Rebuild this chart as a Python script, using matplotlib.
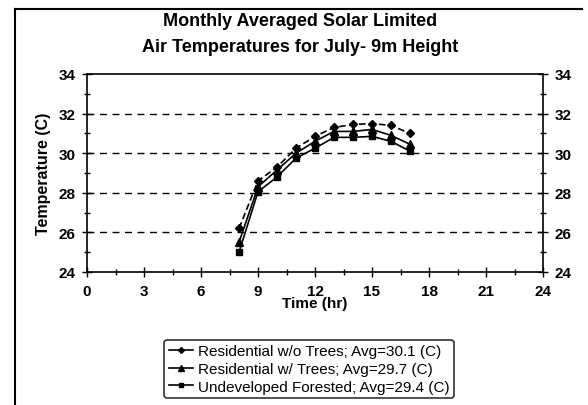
import matplotlib
matplotlib.use("Agg")
import matplotlib.pyplot as plt
from matplotlib.lines import Line2D
from matplotlib.ticker import MultipleLocator

plt.rcParams['font.family'] = ['Liberation Sans', 'DejaVu Sans']

hours = [8, 9, 10, 11, 12, 13, 14, 15, 16, 17]
res_no_trees = [26.2, 28.6, 29.3, 30.25, 30.85, 31.3, 31.45, 31.5, 31.4, 31.0]
res_trees = [25.5, 28.3, 29.15, 30.0, 30.6, 31.1, 31.1, 31.2, 30.9, 30.45]
forested = [25.0, 28.05, 28.8, 29.75, 30.25, 30.8, 30.8, 30.85, 30.6, 30.1]
labels = ["Residential w/o Trees; Avg=30.1 (C)",
          "Residential w/ Trees; Avg=29.7 (C)",
          "Undeveloped Forested; Avg=29.4 (C)"]
x_ticks = [0, 3, 6, 9, 12, 15, 18, 21, 24]
y_ticks = [24, 26, 28, 30, 32, 34]
grid_vals = [26, 28, 30, 32]

fig = plt.figure(figsize=(5.88, 4.06), dpi=100)
ax = fig.add_axes([87/588, 1-273/406, (543-87)/588, (273-75)/406])

ax.plot(hours, res_no_trees, color='black', ls=(0, (4, 2)), lw=1.2, marker='D', ms=4.5)
ax.plot(hours, res_trees, color='black', ls='-', lw=1.2, marker='^', ms=5.5)
ax.plot(hours, forested, color='black', ls='-', lw=1.2, marker='s', ms=4.5)

for g in grid_vals:
    ax.axhline(g, color='black', ls=(0, (5, 4)), lw=1.0, zorder=0)

ax.set_xlim(0, 24)
ax.set_ylim(24, 34)
ax.set_xticks(x_ticks)
ax.set_yticks(y_ticks)
ax.xaxis.set_minor_locator(MultipleLocator(1.5))
ax.yaxis.set_minor_locator(MultipleLocator(1))
ax.tick_params(which='major', direction='inout', length=7, width=1,
               labelsize=11, right=True, labelright=True)
ax.tick_params(axis='x', which='major', pad=5)
ax.tick_params(axis='y', which='major', pad=5)
ax.tick_params(which='minor', direction='inout', length=4, width=1, right=True)
for lab in ax.get_xticklabels() + ax.get_yticklabels():
    lab.set_fontweight('bold')
for sp in ax.spines.values():
    sp.set_linewidth(1.2)

ax.set_xlabel("Time (hr)", fontsize=11, fontweight='bold', labelpad=-1)
ax.set_ylabel("Temperature (C)", fontsize=11.5, fontweight='bold', labelpad=5)

fig.text(300/588, 1-22/406, "Monthly Averaged Solar Limited", ha='center', va='center',
         fontsize=13, fontweight='bold')
fig.text(300/588, 1-47/406, "Air Temperatures for July- 9m Height", ha='center', va='center',
         fontsize=13, fontweight='bold')

handles = [Line2D([], [], color='black', ls='-', lw=1.2, marker='D', ms=3),
           Line2D([], [], color='black', ls='-', lw=1.2, marker='^', ms=4),
           Line2D([], [], color='black', ls='-', lw=1.2, marker='s', ms=3)]
leg = fig.legend(handles, labels, loc='center', bbox_to_anchor=(309/588, 1-370/406),
                 frameon=True, fancybox=True, edgecolor='black', fontsize=11,
                 handlelength=1.6, handletextpad=0.3, labelspacing=0.25,
                 borderpad=0.3)
leg.get_frame().set_linewidth(1.2)

# outer border (left and top)
fig.add_artist(Line2D([15/588, 15/588], [0, 1-10/406], color='black', lw=1.5))
fig.add_artist(Line2D([15/588, 582/588], [1-10/406, 1-10/406], color='black', lw=1.5))

fig.savefig("out.png", dpi=100)
